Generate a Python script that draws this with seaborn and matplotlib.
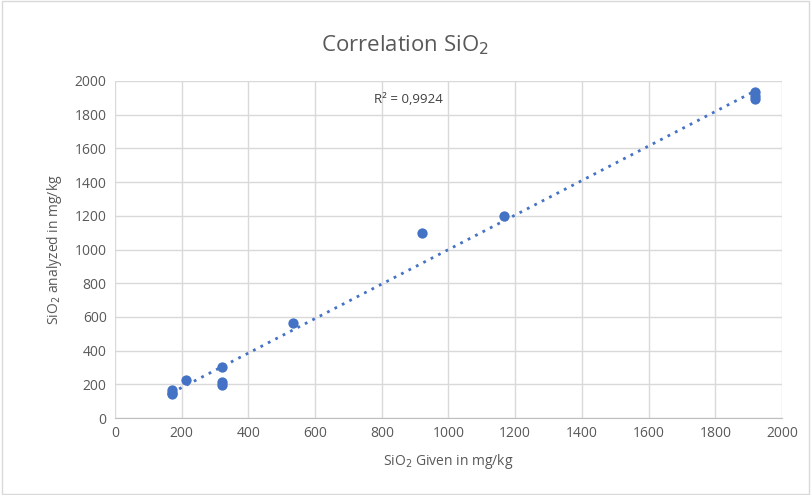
import numpy as np
import pandas as pd
import seaborn as sns
import matplotlib.pyplot as plt

given = [170, 170, 170, 213, 320, 320, 320, 535, 920, 1165, 1920, 1920, 1920]
analyzed = [165, 150, 140, 225, 300, 215, 198, 562, 1095, 1200, 1935, 1910, 1895]
x_ticks = [0, 200, 400, 600, 800, 1000, 1200, 1400, 1600, 1800, 2000]
y_ticks = [0, 200, 400, 600, 800, 1000, 1200, 1400, 1600, 1800, 2000]

df = pd.DataFrame({"given": given, "analyzed": analyzed})

sns.set_style("white")
plt.rcParams['font.family'] = ['Open Sans', 'DejaVu Sans']

fig = plt.figure(figsize=(8.11, 4.95), dpi=100)
ax = fig.add_axes([115/811, 1-418/495, (782-115)/811, (418-81)/495])

blue = "#4472C4"
sns.scatterplot(data=df, x="given", y="analyzed", ax=ax, color=blue, s=55,
                edgecolor=blue, linewidth=0, zorder=3)

# linear trendline
coef = np.polyfit(df["given"], df["analyzed"], 1)
xs = np.array([min(given), max(given)])
ax.plot(xs, np.polyval(coef, xs), linestyle=(0, (1, 2)), color=blue, linewidth=2, zorder=2)

ax.text(0.44, 0.945, "R² = 0,9924", transform=ax.transAxes, ha="center", va="center",
        fontsize=9.5, color="#404040")

ax.set_xlim(0, 2000)
ax.set_ylim(0, 2000)
ax.set_xticks(x_ticks)
ax.set_yticks(y_ticks)
ax.grid(True, color="#D9D9D9", linewidth=1)
ax.set_axisbelow(True)
for s in ["top", "right", "left"]:
    ax.spines[s].set_visible(False)
ax.spines["bottom"].set_color("#BFBFBF")
ax.tick_params(axis="both", length=0, labelsize=10, labelcolor="#595959", pad=6)

ax.set_xlabel("SiO$_2$ Given in mg/kg", fontsize=10, color="#595959", labelpad=8)
ax.set_ylabel("SiO$_2$ analyzed in mg/kg", fontsize=10, color="#595959", labelpad=8)
fig.text(0.5, 1-45/495, "Correlation SiO$_2$", ha="center", va="center", fontsize=16, color="#595959")

# chart border
fig.patches.append(plt.Rectangle((0.002, 0.002), 0.996, 0.996, transform=fig.transFigure,
                                 fill=False, edgecolor="#D9D9D9", linewidth=1))

fig.savefig("out.png", dpi=100)
